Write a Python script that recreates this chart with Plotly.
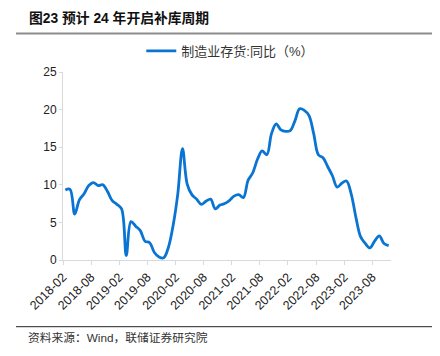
import numpy as np
import plotly.graph_objects as go

# Monthly categories 2018-02 .. 2023-11
months = [f"{y}-{m:02d}" for y in range(2018, 2024) for m in range(1, 13)]
months = months[months.index("2018-02"):months.index("2023-11") + 1]

inventory_yoy = [9.3, 9.4, 6.1, 8.0, 8.8, 9.9, 10.3, 9.9, 10.0, 9.1, 7.9, 7.4, 6.8, 0.6,
                 5.1, 4.5, 3.9, 2.5, 2.3, 1.0, 0.4, 0.3, 1.7, 4.6, 8.8, 14.8, 10.1, 8.7,
                 8.1, 7.4, 7.8, 8.1, 6.8, 7.3, 7.5, 7.9, 8.5, 8.7, 8.3, 10.6, 11.6, 13.4,
                 14.5, 14.0, 16.8, 18.1, 17.3, 17.1, 17.2, 18.5, 20.1, 19.9, 19.2, 16.8,
                 14.0, 13.6, 12.4, 11.2, 9.7, 10.2, 10.5, 8.8, 5.7, 3.1, 2.2, 1.6, 2.5,
                 3.2, 2.2, 1.9]

tick_labels = ["2018-02", "2018-08", "2019-02", "2019-08", "2020-02", "2020-08",
               "2021-02", "2021-08", "2022-02", "2022-08", "2023-02", "2023-08"]
y_ticks = [0, 5, 10, 15, 20, 25]

series_name = "制造业存货:同比（%）"
title_text = "图23 预计 24 年开启补库周期"
source_text = "资料来源：Wind，联储证券研究院"

x_pos = np.arange(len(inventory_yoy)) + 0.5
tick_pos = [months.index(t) for t in tick_labels]

L, R, T, B = 63, 49, 72, 96
W, H = 440, 356
pw, ph = W - L - R, H - T - B


def px(xp):
    return (xp - L) / pw


def py(yp):
    return (H - B - yp) / ph


fig = go.Figure()
fig.add_trace(go.Scatter(
    x=x_pos, y=inventory_yoy, mode="lines", name=series_name,
    line=dict(color="#0a74d2", width=2.8, shape="spline", smoothing=1.0),
    showlegend=True,
))

cjk = "Liberation Sans, Noto Sans CJK SC, sans-serif"

fig.update_layout(
    width=W, height=H,
    margin=dict(l=L, r=R, t=T, b=B, autoexpand=False),
    paper_bgcolor="white", plot_bgcolor="white",
    font=dict(family=cjk, size=12, color="#222"),
    showlegend=True,
    legend=dict(orientation="h", x=0.51, xanchor="center", y=py(51), yanchor="middle",
                font=dict(size=13, color="#333"), bgcolor="rgba(0,0,0,0)",
                itemwidth=30),
    xaxis=dict(range=[0, len(inventory_yoy)], tickmode="array", tickvals=tick_pos,
               ticktext=tick_labels, tickangle=-45, showgrid=False, zeroline=False,
               showline=True, linecolor="#d9d9d9", linewidth=1, automargin=False,
               ticks="outside", ticklen=4, tickcolor="#d9d9d9",
               tickfont=dict(size=12.5, color="#222")),
    yaxis=dict(range=[0, 25], tickmode="array", tickvals=y_ticks, showgrid=False,
               zeroline=False, showline=True, linecolor="#d9d9d9", linewidth=1,
               ticks="outside", ticklen=3, tickcolor="#d9d9d9", automargin=False,
               tickfont=dict(size=12, color="#222")),
    annotations=[
        dict(text="<b>" + title_text + "</b>", xref="paper", yref="paper",
             x=px(27), y=py(18), xanchor="left", yanchor="middle", showarrow=False,
             font=dict(size=13.8, color="#111", family=cjk)),
        dict(text=source_text, xref="paper", yref="paper",
             x=px(26), y=py(337), xanchor="left", yanchor="middle", showarrow=False,
             font=dict(size=11.75, color="#333", family=cjk)),
    ],
    shapes=[
        dict(type="line", xref="paper", yref="paper", x0=px(16), x1=px(432),
             y0=py(33.5), y1=py(33.5), line=dict(color="#8c8c8c", width=2)),
        dict(type="line", xref="paper", yref="paper", x0=px(16), x1=px(432),
             y0=py(326.7), y1=py(326.7), line=dict(color="#222", width=1)),
    ],
)

fig.write_html("out.html", config={"displayModeBar": False},
               post_script="document.body.style.margin='0';")
